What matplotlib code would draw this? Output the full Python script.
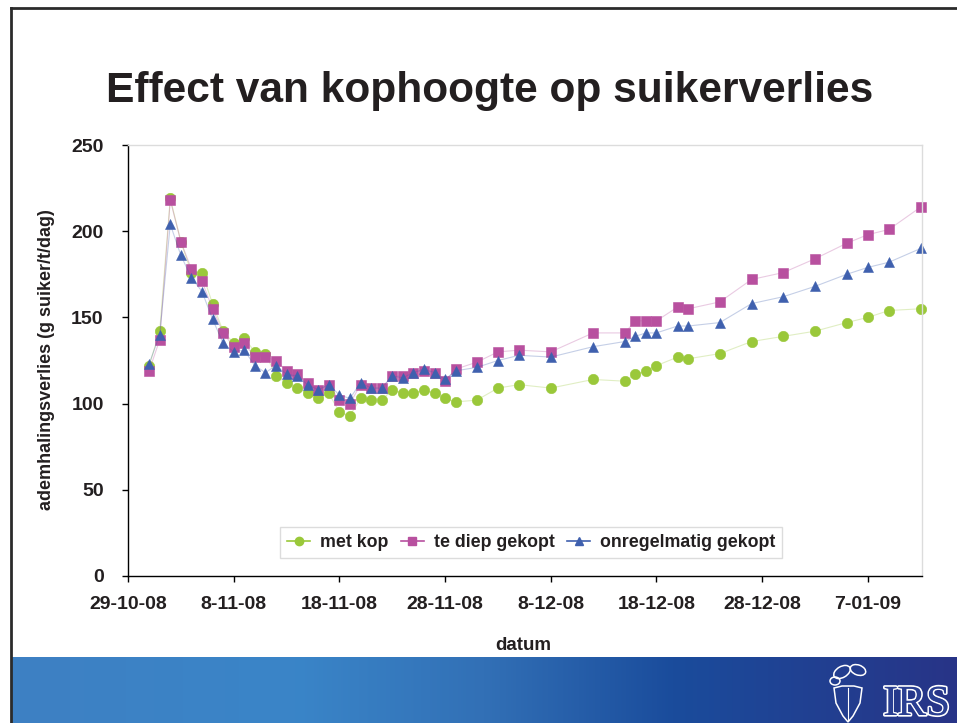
import matplotlib
matplotlib.use("Agg")
import matplotlib.pyplot as plt
import matplotlib.dates as mdates
import matplotlib.patheffects as pe
from matplotlib.lines import Line2D
from matplotlib.patches import Ellipse, Polygon
from datetime import datetime, timedelta
import numpy as np

# data
dates = ["2008-10-31", "2008-11-01", "2008-11-02", "2008-11-03", "2008-11-04",
         "2008-11-05", "2008-11-06", "2008-11-07", "2008-11-08", "2008-11-09",
         "2008-11-10", "2008-11-11", "2008-11-12", "2008-11-13", "2008-11-14",
         "2008-11-15", "2008-11-16", "2008-11-17", "2008-11-18", "2008-11-19",
         "2008-11-20", "2008-11-21", "2008-11-22", "2008-11-23", "2008-11-24",
         "2008-11-25", "2008-11-26", "2008-11-27", "2008-11-28", "2008-11-29",
         "2008-12-01", "2008-12-03", "2008-12-05", "2008-12-08", "2008-12-12",
         "2008-12-15", "2008-12-16", "2008-12-17", "2008-12-18", "2008-12-20",
         "2008-12-21", "2008-12-24", "2008-12-27", "2008-12-30", "2009-01-02",
         "2009-01-05", "2009-01-07", "2009-01-09", "2009-01-12"]

met_kop = [122, 142, 219, 194, 176, 176, 158, 142, 135, 138,
           130, 129, 116, 112, 109, 106, 103, 106, 95, 93,
           103, 102, 102, 108, 106, 106, 108, 106, 103, 101,
           102, 109, 111, 109, 114, 113, 117, 119, 122, 127,
           126, 129, 136, 139, 142, 147, 150, 154, 155]

te_diep = [119, 137, 218, 194, 178, 171, 155, 141, 133, 135,
           127, 127, 125, 119, 117, 112, 108, 111, 102, 100,
           111, 109, 109, 116, 116, 118, 119, 118, 113, 120,
           124, 130, 131, 130, 141, 141, 148, 148, 148, 156,
           155, 159, 172, 176, 184, 193, 198, 201, 214]

onregelmatig = [123, 140, 204, 186, 173, 165, 149, 135, 130, 131,
                122, 118, 122, 117, 116, 111, 108, 111, 105, 103,
                112, 109, 109, 116, 115, 118, 120, 118, 114, 119,
                121, 125, 128, 127, 133, 136, 139, 141, 141, 145,
                145, 147, 158, 162, 168, 175, 179, 182, 190]

series_names = ["met kop", "te diep gekopt", "onregelmatig gekopt"]

x = [datetime.strptime(d, "%Y-%m-%d") for d in dates]

green = "#9ac83a"
magenta = "#b8509f"
blue = "#3f60ae"

plt.rcParams['font.family'] = ['Liberation Sans', 'DejaVu Sans']

fig = plt.figure(figsize=(9.57, 7.23), dpi=100)
fig.patch.set_facecolor("white")

ax = fig.add_axes([128 / 957, 147 / 723, 794 / 957, 431 / 723])

styles = [(met_kop, green, "o", 7.5), (te_diep, magenta, "s", 7.5), (onregelmatig, blue, "^", 7.5)]
handles = []
for (vals, col, mk, ms), name in zip(styles, series_names):
    ax.plot(x, vals, color=col, lw=0.8, alpha=0.3, clip_on=False)
    ax.plot(x, vals, ls="none", marker=mk, ms=ms, color=col,
            mec=col, mew=0.4, clip_on=False)
    handles.append(Line2D([], [], color=col, lw=1.2, marker=mk, ms=6, label=name))

start = datetime(2008, 10, 29)
ax.set_xlim(start, datetime(2009, 1, 12, 3))
ax.set_ylim(0, 250)
ax.set_yticks(range(0, 251, 50))
ax.set_xticks([start + timedelta(days=10 * k) for k in range(8)])
ax.xaxis.set_major_formatter(
    plt.FuncFormatter(lambda v, p: "{}-{:02d}-{:02d}".format(
        mdates.num2date(v).day, mdates.num2date(v).month, mdates.num2date(v).year % 100)))

for s in ["top", "right"]:
    ax.spines[s].set_color("#dcdcdc")
    ax.spines[s].set_linewidth(1)
for s in ["left", "bottom"]:
    ax.spines[s].set_color("black")
    ax.spines[s].set_linewidth(1)

ax.tick_params(axis="y", direction="out", length=4.5, width=1, pad=13, labelsize=14)
ax.tick_params(axis="x", direction="out", length=4.5, width=1, pad=10, labelsize=14)
for lab in ax.get_xticklabels() + ax.get_yticklabels():
    lab.set_fontweight("bold")
    lab.set_color("#231f20")

leg = ax.legend(handles=handles, loc="lower left", bbox_to_anchor=(0.1914, 0.042),
                ncol=3, frameon=True, fancybox=False, borderaxespad=0,
                handlelength=1.3, handletextpad=0.55, columnspacing=0.7,
                borderpad=0.4, prop={"weight": "bold", "size": 12.8})
leg.get_frame().set_edgecolor("#d4d4d4")
leg.get_frame().set_linewidth(1)
for t in leg.get_texts():
    t.set_color("#231f20")

# titles and axis labels
fig.text(490 / 957, 1 - 102 / 723, "Effect van kophoogte op suikerverlies",
         ha="center", va="baseline", fontsize=30.6, fontweight="bold", color="#231f20")
fig.text(47 / 957, 1 - 360 / 723, "ademhalingsverlies (g suiker/t/dag)",
         rotation=90, ha="center", va="center", fontsize=13, fontweight="bold", color="#231f20")
fig.text(523 / 957, 1 - 645 / 723, "datum", ha="center", va="center",
         fontsize=13.5, fontweight="bold", color="#231f20")

# slide frame
fig.add_artist(Line2D([11 / 957, 11 / 957], [0, 1 - 8 / 723], transform=fig.transFigure,
                      color="#2b2b2b", lw=2))
fig.add_artist(Line2D([11 / 957, 1], [1 - 8 / 723, 1 - 8 / 723], transform=fig.transFigure,
                      color="#2b2b2b", lw=2))

# blue banner at the bottom
bax = fig.add_axes([12 / 957, 0, 945 / 957, 66 / 723])
stops = [0.0, 0.3, 0.5, 0.7, 1.0]
rgb = np.array([[62, 128, 195], [58, 133, 200], [50, 112, 182], [26, 76, 156], [40, 52, 135]]) / 255
pos = np.linspace(0, 1, 400)
grad = np.stack([np.interp(pos, stops, rgb[:, i]) for i in range(3)], axis=-1)
bax.imshow(grad[np.newaxis, :, :], aspect="auto", extent=(0, 1, 0, 1))
bax.set_xlim(0, 1)
bax.set_ylim(0, 1)
bax.axis("off")

# IRS logo, drawn in pixel units
lax = fig.add_axes([820 / 957, 0, 137 / 957, 66 / 723])
lax.set_xlim(820, 957)
lax.set_ylim(723, 657)
lax.axis("off")
lax.text(950, 715, "IRS", ha="right", va="baseline", fontsize=31,
         family="Liberation Serif", color="#2a3f92",
         path_effects=[pe.withStroke(linewidth=2.4, foreground="white")])
lax.text(950, 715, "IRS", ha="right", va="baseline", fontsize=31,
         family="Liberation Serif", color="#2a3f92")
lax.add_patch(Polygon([(834, 688), (842, 686), (854, 686), (862, 688), (860, 703),
                       (853, 716), (848, 722), (843, 716), (836, 703)],
                      closed=True, fill=False, ec="white", lw=1.1))
lax.plot([848, 848], [688, 720], color="white", lw=0.8)
for cx, cy, w, h, a in [(842, 672, 18, 11, -30), (858, 670, 16, 10, 20),
                        (835, 681, 10, 8, 0)]:
    lax.add_patch(Ellipse((cx, cy), w, h, angle=a, fill=False, ec="white", lw=1.1))

fig.savefig("out.png", dpi=100)
